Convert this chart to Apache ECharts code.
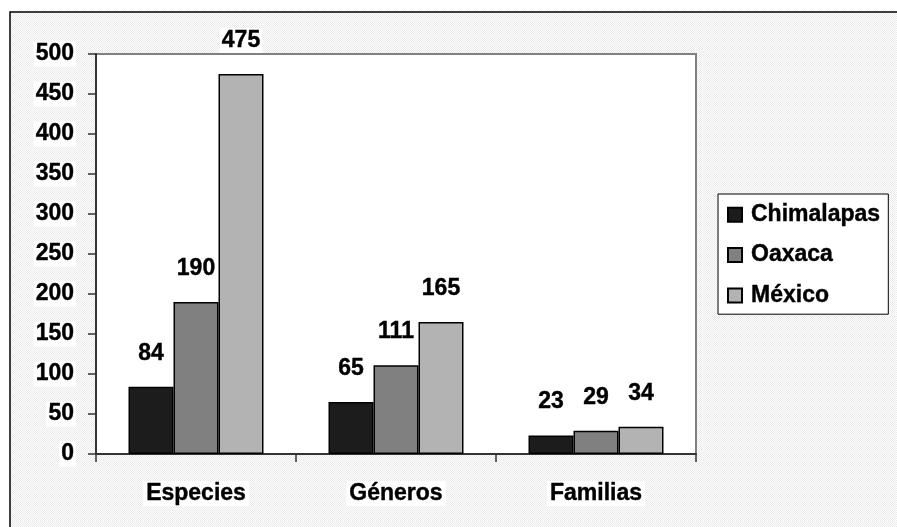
<!DOCTYPE html>
<html>
<head>
<meta charset="utf-8">
<script src="https://cdn.jsdelivr.net/npm/echarts@6/dist/echarts.min.js"></script>
<style>
html,body{margin:0;padding:0;background:#fff;}
#chart{width:897px;height:527px;}
</style>
</head>
<body>
<div id="chart"></div>
<script>
const categories = ['Especies', 'Géneros', 'Familias'];
const seriesNames = ['Chimalapas', 'Oaxaca', 'México'];
const chimalapas = [84, 65, 23];
const oaxaca = [190, 111, 29];
const mexico = [475, 165, 34];
const yTicks = [0, 50, 100, 150, 200, 250, 300, 350, 400, 450, 500];

const colors = ['#1c1c1c', '#808080', '#b3b3b3'];
const FONT = '"Liberation Sans", Arial, sans-serif';
const FS = 23;

// hatch pattern for chart area background
const pc = document.createElement('canvas');
pc.width = 4; pc.height = 4;
const px = pc.getContext('2d');
px.fillStyle = '#ffffff'; px.fillRect(0, 0, 4, 4);
px.fillStyle = '#e9e9e9';
for (let i = 0; i < 4; i++) { px.fillRect(i, i % 4, 1, 1); px.fillRect(i, (i + 2) % 4, 1, 1); }

const chart = echarts.init(document.getElementById('chart'));

const labelStyle = {
  show: true, position: 'top', distance: 21,
  color: '#000', fontFamily: FONT, fontWeight: 'bold', fontSize: FS,
  textBorderColor: '#000', textBorderWidth: 0.4,
  backgroundColor: '#fff', padding: [1, 2]
};

function mkSeries(name, data, color) {
  return {
    name: name, type: 'bar', data: data,
    barGap: '0%', barCategoryGap: '32.5%',
    itemStyle: { color: color, borderColor: '#000', borderWidth: 1.5 },
    label: labelStyle,
    z: 3
  };
}

chart.setOption({
  animation: false,
  backgroundColor: '#fff',
  graphic: [{
    type: 'rect', z: -100, silent: true,
    shape: { x: 10, y: 12, width: 1000, height: 1000 },
    style: { fill: { image: pc, repeat: 'repeat' }, stroke: '#000', lineWidth: 1.5 }
  }],
  grid: {
    left: 96, right: 201, top: 54, bottom: 73,
    show: true, backgroundColor: '#fff', borderColor: '#808080', borderWidth: 2
  },
  legend: {
    orient: 'vertical', left: 718, top: 194,
    data: seriesNames,
    icon: 'rect', itemWidth: 14, itemHeight: 14, itemGap: 17,
    padding: [9, 8, 7, 9],
    backgroundColor: '#fff', borderColor: '#000', borderWidth: 1,
    textStyle: { fontFamily: FONT, fontWeight: 'bold', fontSize: FS, color: '#000',
      textBorderColor: '#000', textBorderWidth: 0.4, padding: [0, 0, 0, 4] }
  },
  xAxis: {
    type: 'category', data: categories,
    axisLine: { lineStyle: { color: '#333', width: 2 } },
    axisTick: { show: true, length: 8, alignWithLabel: false, lineStyle: { color: '#333', width: 1.5 } },
    axisLabel: {
      margin: 27, color: '#000', fontFamily: FONT, fontWeight: 'bold', fontSize: FS,
      textBorderColor: '#000', textBorderWidth: 0.4,
      backgroundColor: '#fff', padding: [1, 3]
    },
    splitLine: { show: false }
  },
  yAxis: {
    type: 'value', min: 0, max: 500, interval: 50,
    axisLine: { show: true, lineStyle: { color: '#333', width: 2 } },
    axisTick: { show: true, length: 8, lineStyle: { color: '#333', width: 1.5 } },
    axisLabel: {
      margin: 20, color: '#000', fontFamily: FONT, fontWeight: 'bold', fontSize: FS,
      textBorderColor: '#000', textBorderWidth: 0.4,
      backgroundColor: '#fff', padding: [1, 2],
      formatter: function (v) { return yTicks.indexOf(v) >= 0 ? String(v) : ''; }
    },
    splitLine: { show: false }
  },
  series: [
    mkSeries(seriesNames[0], chimalapas, colors[0]),
    mkSeries(seriesNames[1], oaxaca, colors[1]),
    mkSeries(seriesNames[2], mexico, colors[2])
  ]
});
</script>
</body>
</html>
